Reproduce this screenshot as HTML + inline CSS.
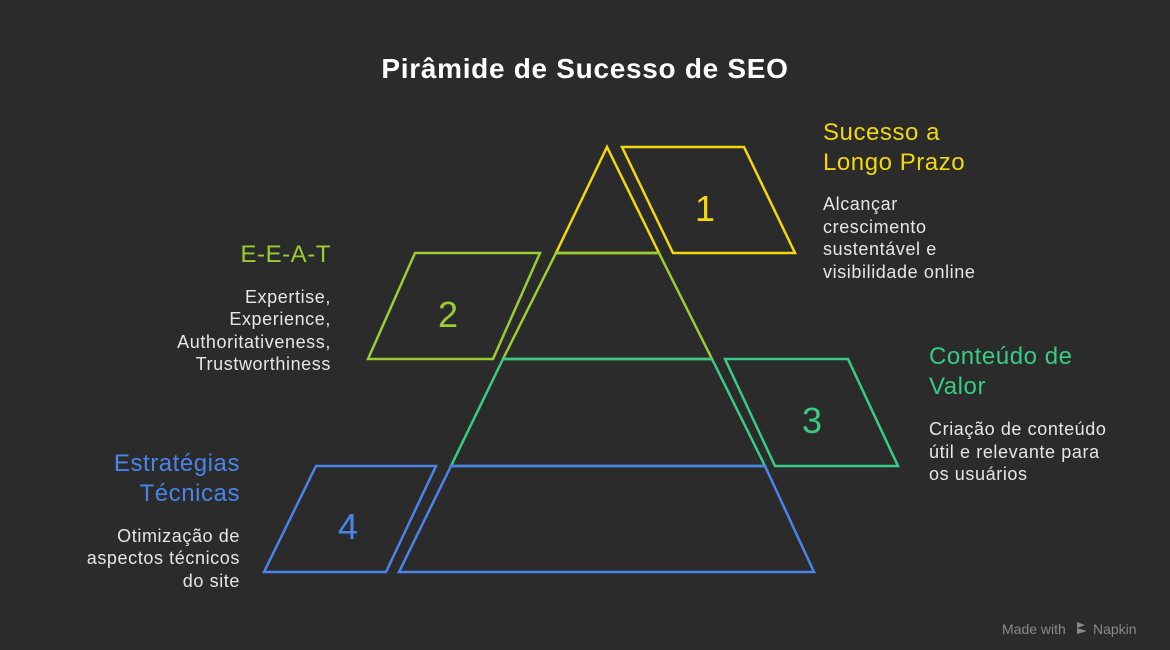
<!DOCTYPE html>
<html><head><meta charset="utf-8"><style>
html,body{margin:0;padding:0;background:#2b2b2b;}
svg{display:block;font-family:"Liberation Sans",sans-serif;}
</style></head><body>
<svg width="1170" height="650" viewBox="0 0 1170 650">
<rect width="1170" height="650" fill="#2b2b2b"/>
<text x="585" y="78" text-anchor="middle" font-size="28" font-weight="bold" letter-spacing="0.7" fill="#ffffff">Pirâmide de Sucesso de SEO</text>
<g fill="none" stroke-width="2.5" stroke-linejoin="miter">
<path d="M607 147 L659 253 L556 253 Z" stroke="#f2d80c"/>
<path d="M622 147 L744 147 L795 253 L673 253 Z" stroke="#f2d80c"/>
<path d="M556 253 L659 253 L712 359 L503 359 Z" stroke="#9bcc34"/>
<path d="M415 253 L540 253 L493 359 L368 359 Z" stroke="#9bcc34"/>
<path d="M503 359 L712 359 L765 466 L451 466 Z" stroke="#37cb85"/>
<path d="M725 359 L848 359 L898 466 L775 466 Z" stroke="#37cb85"/>
<path d="M451 466 L765 466 L814 572 L399 572 Z" stroke="#4a84ea"/>
<path d="M316 466 L436 466 L386 572 L264 572 Z" stroke="#4a84ea"/>
</g>
<g font-size="36" text-anchor="middle">
<text x="705" y="221" fill="#f2d80c">1</text>
<text x="448" y="327" fill="#9bcc34">2</text>
<text x="812" y="433" fill="#37cb85">3</text>
<text x="348" y="539" fill="#4a84ea">4</text>
</g>
<g font-size="24" letter-spacing="0.55">
<text x="823" y="140" fill="#f2d80c">Sucesso a</text>
<text x="823" y="170" fill="#f2d80c">Longo Prazo</text>
<text x="331" y="262" fill="#9bcc34" text-anchor="end">E-E-A-T</text>
<text x="929" y="364" fill="#37cb85">Conteúdo de</text>
<text x="929" y="394" fill="#37cb85">Valor</text>
<text x="240" y="471" fill="#4a84ea" text-anchor="end">Estratégias</text>
<text x="240" y="501" fill="#4a84ea" text-anchor="end">Técnicas</text>
</g>
<g font-size="18" letter-spacing="0.6" fill="#e6e6e6">
<text x="823" y="210">Alcançar</text>
<text x="823" y="233">crescimento</text>
<text x="823" y="255">sustentável e</text>
<text x="823" y="278">visibilidade online</text>
<text x="331" y="303" text-anchor="end">Expertise,</text>
<text x="331" y="325" text-anchor="end">Experience,</text>
<text x="331" y="348" text-anchor="end">Authoritativeness,</text>
<text x="331" y="370" text-anchor="end">Trustworthiness</text>
<text x="929" y="435">Criação de conteúdo</text>
<text x="929" y="458">útil e relevante para</text>
<text x="929" y="480">os usuários</text>
<text x="240" y="542" text-anchor="end">Otimização de</text>
<text x="240" y="564" text-anchor="end">aspectos técnicos</text>
<text x="240" y="587" text-anchor="end">do site</text>
</g>
<g fill="#8a8a8a" font-size="14">
<text x="1002" y="634">Made with</text>
<path d="M1077 622 l8 3 l-8 3 z M1077 628 l10 3 l-10 3 z" fill="#8a8a8a"/>
<text x="1093" y="634">Napkin</text>
</g>
</svg>
</body></html>
